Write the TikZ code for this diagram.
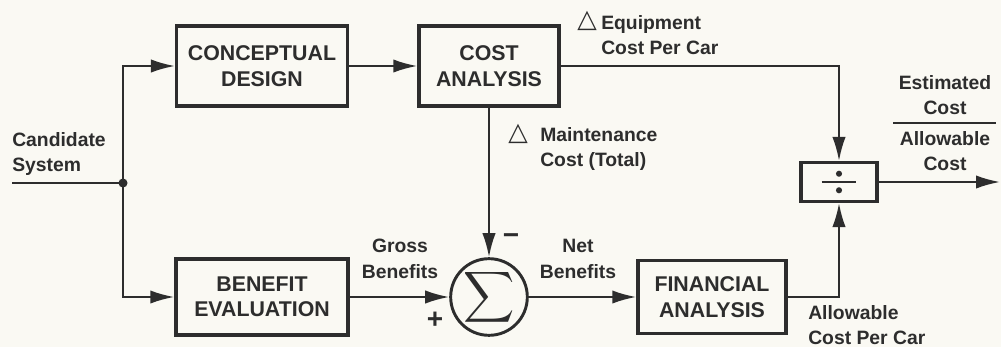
\documentclass[tikz,border=0pt]{standalone}
\usepackage{fontspec}
\usepackage{graphicx}
\setmainfont{Liberation Sans}
\newfontfamily\symfont{DejaVu Sans}
\usetikzlibrary{arrows.meta}
\definecolor{ink}{RGB}{45,45,45}
\definecolor{paper}{RGB}{250,249,243}
\begin{document}
\begin{tikzpicture}[x=0.75pt,y=-0.75pt,
  color=ink,
  blk/.style={draw=ink, line width=2.6pt, align=center, inner sep=0pt,
    font=\fontsize{16}{19}\selectfont\bfseries, text=ink},
  lbl/.style={inner sep=0pt, font=\fontsize{14.5}{19}\selectfont\bfseries, text=ink},
  tri/.style={inner sep=0pt, font=\fontsize{19}{19}\selectfont\symfont\bfseries, text=ink},
  sgn/.style={inner sep=0pt, font=\fontsize{21}{21}\selectfont\bfseries, text=ink},
  wire/.style={draw=ink, line width=1.6pt},
  conn/.style={wire, -{Latex[length=18pt,width=10pt]}}
]
\fill[paper] (0,0) rectangle (1001,347);
\useasboundingbox (0,0) rectangle (1001,347);

% blocks
\node[blk, minimum width=128pt, minimum height=60pt] (cd) at (262,66) {CONCEPTUAL\\DESIGN};
\node[blk, minimum width=105pt, minimum height=60pt] (ca) at (489,66) {COST\\ANALYSIS};
\node[blk, minimum width=129pt, minimum height=57pt] (be) at (262,297) {BENEFIT\\EVALUATION};
\node[draw=ink, circle, line width=2.2pt, minimum size=54pt, inner sep=0pt] (sum) at (489,297)
  {\resizebox{!}{28pt}{$\displaystyle\sum$}};
\node[blk, minimum width=111pt, minimum height=55pt] (fa) at (712,297) {FINANCIAL\\ANALYSIS};
\node[blk, minimum width=57pt, minimum height=29pt] (dv) at (839,182) {};

% divide sign
\draw[wire, line width=1.5pt] ([xshift=-13pt]dv.center) -- ([xshift=13pt]dv.center);
\fill[ink] ([yshift=6.2pt]dv.center) circle (2.3pt);
\fill[ink] ([yshift=-6.2pt]dv.center) circle (2.3pt);

% input and junction
\coordinate (in) at (12,183);
\coordinate (j) at (123,183);
\coordinate (out) at (1000,182);
\draw[wire] (in) -- (j);
\fill[ink] (j) circle (3.4pt);

% connectors
\draw[conn] (j) |- (cd.west);
\draw[conn] (j) |- (be.west);
\draw[conn] (cd) -- (ca);
\draw[conn] (ca) -- (sum);
\draw[conn] (ca.east) -| (dv.north);
\draw[conn] (be) -- (sum);
\draw[conn] (sum) -- (fa);
\draw[conn] (fa.east) -| (dv.south);
\draw[conn] (dv) -- (out);

% labels
\node[lbl, align=left, anchor=north west] (cs) at (12,132) {Candidate\\System};
\node[lbl, align=center] (gb) at (400,259) {Gross\\Benefits};
\node[sgn] (plus) at (435,320) {+};
\node[sgn] (minus) at (511,239) {−};
\node[lbl, align=center] (nb) at (578,259) {Net\\Benefits};
\node[tri] (t1) at (587,21) {△};
\node[lbl, align=left, anchor=north west] (eq) at (601,15) {Equipment\\Cost Per Car};
\node[tri] (t2) at (518,134) {△};
\node[lbl, align=left, anchor=north west] (mc) at (540,127) {Maintenance\\Cost (Total)};
\node[lbl, align=center, anchor=south] (est) at (945,115) {Estimated\\Cost};
\node[lbl, align=center, anchor=north] (alw) at (945,131) {Allowable\\Cost};
\coordinate (rl) at (893,123);
\coordinate (rr) at (996,123);
\draw[wire, line width=1.5pt] (rl) -- (rr);
\node[lbl, align=left, anchor=north west] (ac) at (808,305) {Allowable\\Cost Per Car};
\end{tikzpicture}
\end{document}
